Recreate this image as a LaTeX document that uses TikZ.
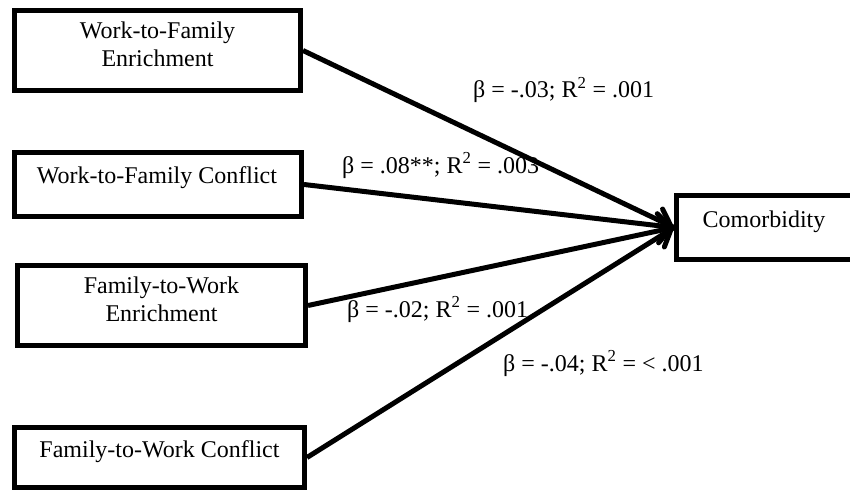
\documentclass[tikz,border=0pt]{standalone}
\usepackage{fontspec}
\setmainfont{Liberation Serif}
\usetikzlibrary{arrows.meta}
\begin{document}
\begin{tikzpicture}[x=1pt,y=-1pt,
  box/.style={draw, line width=5pt, inner sep=0pt},
  txt/.style={font=\fontsize{24}{28}\selectfont, inner sep=0pt, align=center},
  lbl/.style={font=\fontsize{24}{28}\selectfont, inner sep=0pt, anchor=base west},
  conn/.style={line width=5pt},
  head/.style={-{Straight Barb[length=11pt,width=34pt,line cap=round,line join=round]}}
]
\useasboundingbox (0,0) rectangle (850,492);
% boxes
\node[box, minimum width=286pt, minimum height=80pt] (b1) at (157.5,50.5) {};
\node[box, minimum width=287pt, minimum height=64pt] (b2) at (158,184.5) {};
\node[box, minimum width=288pt, minimum height=80pt] (b3) at (161.5,305.5) {};
\node[box, minimum width=290pt, minimum height=60pt] (b4) at (159.5,457.5) {};
\node[box, minimum width=190pt, minimum height=64pt] (c) at (771.5,227.5) {};
% box texts
\node[txt] (t1) at (157.5,44) {Work-to-Family\\Enrichment};
\node[txt] (t2) at (157,178) {Work-to-Family Conflict};
\node[txt] (t3) at (161.5,299) {Family-to-Work\\Enrichment};
\node[txt] (t4) at (159.5,452) {Family-to-Work Conflict};
\node[txt] (tc) at (764,222) {Comorbidity};
% labels
\node[lbl] (l1) at (473,98) {β = -.03; R\textsuperscript{2} = .001};
\node[lbl] (l2) at (342,173) {β = .08**; R\textsuperscript{2} = .003};
\node[lbl] (l3) at (347,317) {β = -.02; R\textsuperscript{2} = .001};
\node[lbl] (l4) at (503,371) {β = -.04; R\textsuperscript{2} = < .001};
% connectors
\draw[conn] (b1.east) -- (c.west);
\draw[conn] (b4.east) -- (c.west);
\draw[conn, head] (b2.east) -- (c.west);
\draw[conn, head] (b3.east) -- (c.west);
\end{tikzpicture}
\end{document}
